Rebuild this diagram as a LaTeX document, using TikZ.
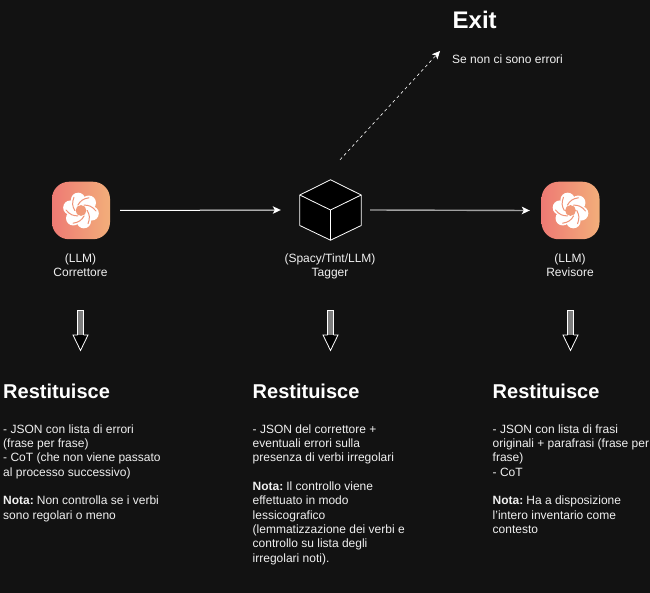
\documentclass[tikz,border=0pt]{standalone}
\usepackage{fontspec}
\setmainfont{Liberation Sans}
\usetikzlibrary{arrows.meta}
\definecolor{bgc}{HTML}{121212}
\definecolor{icl}{HTML}{EE7A74}
\definecolor{icr}{HTML}{F2AE7A}
\definecolor{icm}{HTML}{F09478}
\definecolor{txt}{HTML}{F0F0F0}
\newcommand{\notalabel}{\textbf{Nota:}\hspace{3pt}}
\tikzset{
  x=1pt,y=-1pt,
  iconbox/.style={rectangle,rounded corners=17pt,minimum width=58pt,minimum height=57.5pt,inner sep=0pt,left color=icl,right color=icr},
  cubebox/.style={rectangle,minimum width=61pt,minimum height=60pt,inner sep=0pt},
  label/.style={align=center,inner sep=0pt,text=txt,font=\fontsize{12}{14.3}\selectfont},
  body/.style={align=left,inner sep=0pt,anchor=north west,text=txt,font=\fontsize{12}{14.3}\selectfont},
  heading/.style={inner sep=0pt,anchor=base west,text=white,font=\fontsize{20}{24}\selectfont\bfseries},
  tip/.style={-{Stealth[length=8pt,width=7.5pt,inset=2pt]}},
  flow/.style={tip,draw=white,line width=1pt},
  flowgrey/.style={draw=white!60!bgc,line width=1.4pt,arrows={-{Stealth[length=8pt,width=7.5pt,inset=2pt,color=white]}}},
  flowdash/.style={tip,draw=white,line width=.6pt,dash pattern=on 3pt off 3pt},
  logo/.pic={
    \foreach \a in {0,60,...,300}{
      \fill[white] (\a+15:11) circle[radius=7.2];
    }
    \fill[white] (0,0) circle[radius=11];
    \foreach \a in {0,60,...,300}{
      \draw[icm,line width=1pt,line cap=round] (\a:6.2) .. controls (\a+25:9.5) and (\a+40:12) .. (\a+62:15);
    }
    \fill[icm!80!icr] (0,0) circle[radius=5.4];
  },
  blockarrow/.pic={
    \fill[white!45!bgc] (-3,0) rectangle (3,25);
    \draw[white,line width=.8pt,fill=black] (-3,25) -- (-7.5,25) -- (0,40.5) -- (7.5,25) -- (3,25);
    \draw[white,line width=.8pt] (-3,25) -- (-3,0) -- (3,0) -- (3,25);
  }
}
\begin{document}
\begin{tikzpicture}
\useasboundingbox (0,0) rectangle (650,593);
\fill[bgc] (0,0) rectangle (650,593);

\node[iconbox] (corr) at (81,210.5) {};
\pic at (corr.center) {logo};
\node[iconbox] (rev) at (570.5,210.5) {};
\pic at (rev.center) {logo};

\node[cubebox] (tag) at (330.5,210) {};
\draw[white,line width=.8pt,line join=round,fill=black]
  (tag.north) -- (tag.north east |- 195,195) -- (tag.south east |- 225.5,225.5) -- (tag.south)
  -- (tag.south west |- 225.5,225.5) -- (tag.north west |- 195,195) -- cycle;
\draw[white,line width=.8pt,line join=round]
  (tag.north west |- 195,195) -- (tag.center) -- (tag.north east |- 195,195)
  (tag.center) -- (tag.south);

\node[label,anchor=base] (corrl) at (80.5,277) {(LLM)\\Correttore};
\node[label,anchor=base] (tagl) at (330,277) {(Spacy/Tint/LLM)\\Tagger};
\node[label,anchor=base] (revl) at (570,277) {(LLM)\\Revisore};

\coordinate (exitend) at (440,51);
\draw[flow] ([xshift=10pt]corr.east) -- ([xshift=-19pt]tag.west);
\draw[flowgrey] ([xshift=9pt]tag.east) -- ([xshift=-11.5pt]rev.west);
\draw[flowdash] ([shift={(9.5pt,20pt)}]tag.north) -- (exitend);

\node[inner sep=0pt,anchor=base west,text=white,font=\fontsize{24}{28}\selectfont\bfseries] (exit) at (452.5,29) {Exit};
\node[body] (exitb) at (452,54.5) {Se non ci sono errori};

\pic at (80.5,310) {blockarrow};
\pic at (330.5,310) {blockarrow};
\pic at (570.5,310) {blockarrow};

\node[heading] (h1) at (3,398) {Restituisce};
\node[heading] (h2) at (252.5,398) {Restituisce};
\node[heading] (h3) at (492.5,398) {Restituisce};

\node[body] (b1) at (3,424.5) {- JSON con lista di errori\\(frase per frase)\\- CoT (che non viene passato\\al processo successivo)\\[14.3pt]\notalabel Non controlla se i verbi\\sono regolari o meno};
\node[body] (b2) at (252.5,424.5) {- JSON del correttore +\\eventuali errori sulla\\presenza di verbi irregolari\\[14.3pt]\notalabel Il controllo viene\\effettuato in modo\\lessicografico\\(lemmatizzazione dei verbi e\\controllo su lista degli\\irregolari noti).};
\node[body] (b3) at (492.5,424.5) {- JSON con lista di frasi\\originali + parafrasi (frase per\\frase)\\- CoT\\[14.3pt]\notalabel Ha a disposizione\\l'intero inventario come\\contesto};
\end{tikzpicture}
\end{document}
